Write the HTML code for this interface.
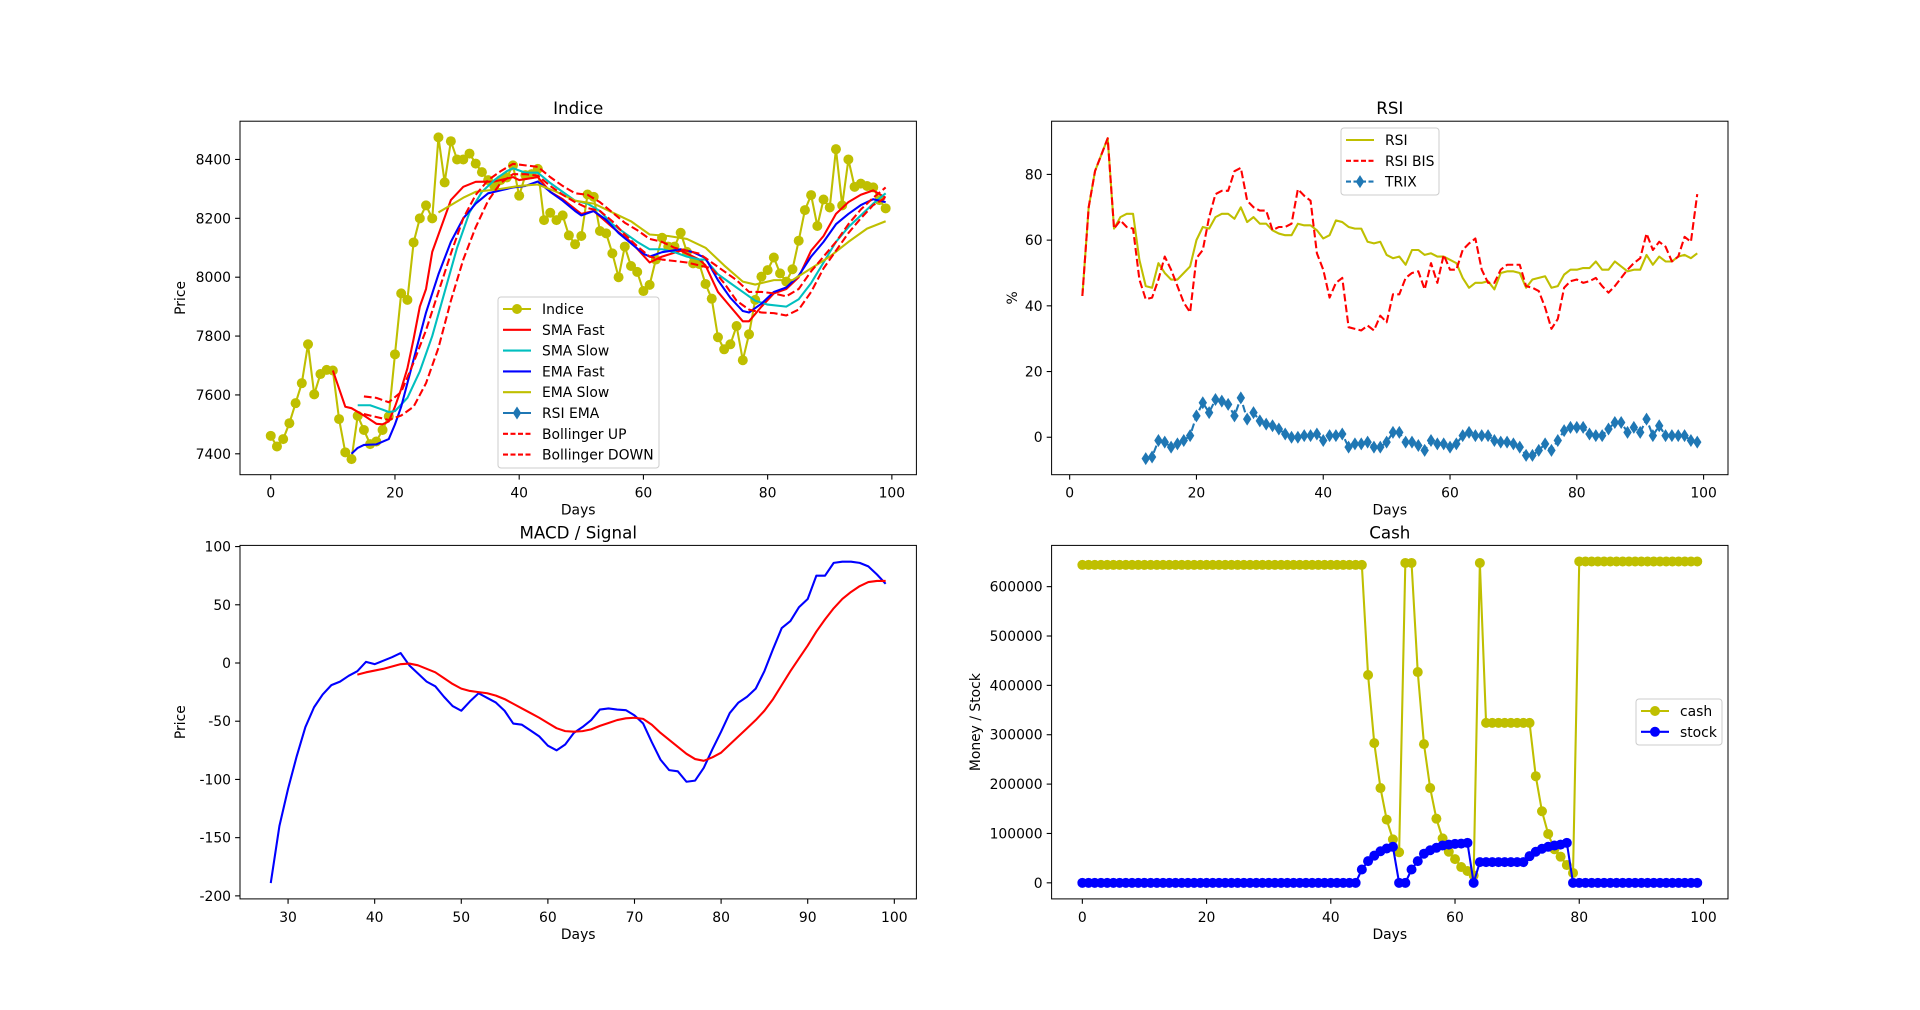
<!DOCTYPE html>
<html><head><meta charset="utf-8">
<style>
html,body{margin:0;padding:0;background:#fff;}
svg{display:block;font-family:"DejaVu Sans","Liberation Sans",sans-serif;}
</style></head>
<body>
<svg id="fig" width="1920" height="1010" viewBox="0 0 1920 1010" xmlns="http://www.w3.org/2000/svg">
<rect width="1920" height="1010" fill="#fff"/>
</svg>
<script>
// ---------- Indice chart data ----------
const indiceDays = Array.from({length:100},(_,i)=>i);
const indiceValues = [7461,7425,7450,7504,7572,7640,7772,7602,7671,7685,7683,7518,7405,7382,7529,7481,7433,7442,7481,7527,
7738,7945,7923,8118,8200,8244,8200,8475,8322,8462,8400,8400,8420,8386,8357,8330,8310,8330,8339,8380,
8277,8347,8350,8368,8194,8219,8194,8210,8142,8112,8140,8281,8273,8157,8149,8081,8000,8104,8038,8018,
7953,7974,8060,8134,8104,8104,8151,8086,8047,8045,7977,7927,7796,7755,7772,7834,7718,7806,7923,8002,
8024,8067,8013,7985,8027,8124,8228,8279,8174,8264,8237,8435,8244,8400,8307,8318,8310,8305,8262,8234];
const smaFastDays = [10,12,13,15,17,18,19,20,21,22,23,24,25,26,29,31,33,36,39,40,43,45,47,50,52,55,58,61,63,66,69,70,72,74,76,77,79,81,83,85,87,89,91,93,95,97,99];
const smaFastValues = [7683,7560,7555,7530,7502,7500,7510,7560,7620,7690,7790,7900,7960,8086,8262,8307,8324,8325,8340,8330,8340,8290,8265,8215,8225,8170,8120,8050,8070,8090,8060,8040,7950,7900,7850,7850,7900,7945,7960,8000,8090,8140,8215,8255,8280,8295,8270];
const smaSlowDays = [14,16,18,19,20,22,24,26,28,30,32,34,36,38,39,41,43,45,47,49,51,53,55,57,59,61,63,65,67,69,70,72,74,76,78,80,83,85,87,89,91,93,95,97,99];
const smaSlowValues = [7565,7565,7550,7542,7545,7590,7680,7800,7950,8100,8220,8290,8330,8360,8370,8355,8355,8320,8290,8260,8250,8225,8180,8150,8120,8095,8095,8085,8070,8060,8060,8010,7980,7950,7920,7907,7900,7925,7980,8050,8120,8170,8210,8250,8285];
const emaFastDays = [13,14,15,17,19,20,21,23,25,27,29,31,33,35,37,39,41,43,45,47,49,50,52,54,56,58,60,61,63,66,68,70,72,74,76,77,79,81,83,85,87,89,91,93,95,97,99];
const emaFastValues = [7400,7420,7430,7432,7450,7500,7560,7720,7880,8010,8120,8200,8250,8285,8295,8305,8310,8325,8290,8260,8225,8210,8225,8195,8150,8115,8080,8070,8085,8095,8085,8065,7990,7930,7885,7880,7910,7950,7965,8005,8070,8120,8180,8215,8245,8265,8255];
const emaSlowDays = [27,29,31,33,35,37,40,43,46,49,52,55,58,61,64,67,70,73,76,78,81,84,87,90,93,96,99];
const emaSlowValues = [8220,8245,8270,8290,8295,8300,8310,8315,8290,8260,8250,8220,8190,8145,8140,8130,8100,8040,7985,7975,7990,7990,8030,8070,8120,8165,8190];
const bollDays = [15,17,19,21,23,25,27,29,31,33,35,37,39,41,43,45,47,49,51,53,55,57,59,61,63,65,67,69,71,73,75,77,79,81,83,85,87,89,91,93,95,97,99];
const bollUpValues = [7595,7590,7575,7610,7710,7820,7950,8080,8200,8280,8330,8360,8385,8380,8375,8340,8310,8285,8280,8255,8220,8185,8160,8130,8120,8100,8090,8080,8050,8020,7990,7950,7950,7945,7935,7960,8020,8070,8120,8180,8230,8270,8305];
const bollDownValues = [7535,7525,7515,7530,7560,7640,7760,7920,8060,8170,8260,8320,8350,8350,8345,8310,8280,8255,8235,8225,8190,8145,8105,8070,8060,8055,8050,8040,8030,7980,7920,7890,7880,7878,7870,7890,7950,8030,8090,8150,8200,8245,8270];
const indiceXTicks = [0,20,40,60,80,100];
const indiceYTicks = [7400,7600,7800,8000,8200,8400];

// ---------- RSI chart data ----------
const rsiDays = Array.from({length:98},(_,i)=>i+2);
const rsiValues = [43,70,81,86,91,63.5,67,68,68,54,46,45.5,53,50,48,48,50,52,60,64,63.5,67,68,68,66.5,70,65.5,67,65,65,63,62,61.5,61.5,65,64.5,64.5,63,60.5,61.5,66,65.5,64,63.5,63.5,59.5,59,59.5,55.5,54.5,55,52.5,57,57,55.5,56,55,55,54,53,48.5,45.5,47,47,47.5,45,50,50.5,50.5,50,45.5,48,48.5,49,45.5,46,49.5,51,51,51.5,51.5,53.5,51,51,53.5,52,50.5,51,51,55.5,52.5,55,53.5,53.5,55,55.5,54.5,56];
const rsiBisValues = [43,70,81,86,91,63.5,66,64,63.5,48,42,42.5,48,55,51,46,41,38,54.5,57,67,74,75,75,81,82,72,70,69,69,63,64,64,65,75.5,73.5,72,56,51,42.5,47,48.5,33.5,33,32.5,34,32.5,37,35,43.5,43.5,48.5,50,50.5,45,53,47,55.5,51,51,57,59,60.5,51,47,47,51,52.5,52.5,52.5,46,45.5,44.5,39.5,33,36,45.5,47.5,48,47,47.5,48.5,46,44,46,48.5,51,53,54.5,62,57,59.5,58,53.5,55,61,59.5,74];
const trixDays = Array.from({length:88},(_,i)=>i+12);
const trixValues = [-6.5,-6,-1,-1.5,-3,-2,-1,0.5,6.5,10.5,7.5,11.5,11,10,6.5,12,5.5,7.5,5,4,3.5,2.5,1,0,0,0.5,0.5,1,-1,0.5,0.5,1,-3,-2,-2,-1.5,-3,-3,-1.5,1.5,1.5,-1.5,-1.5,-2.5,-4,-1,-2,-2,-3,-2,0.5,1.5,0.5,0.5,0.5,-1,-1.5,-1.5,-2,-3,-5.5,-5.5,-4,-2,-4,-1,2,3,3,3,1,0.5,0.5,2.5,4.5,4.5,1.5,3,1.5,5.5,0.5,3.5,0.5,0.5,0.5,0.5,-1,-1.5];
const rsiXTicks = [0,20,40,60,80,100];
const rsiYTicks = [0,20,40,60,80];

// ---------- MACD chart data ----------
const macdDays = Array.from({length:72},(_,i)=>i+28);
const macdValues = [-189,-140,-108,-80,-55,-38,-27,-19,-16,-11,-7,1,-1,2,5,8.5,-2,-9,-16,-20,-29,-37,-41,-33,-26,-30,-34,-41,-52,-53,-58,-63,-71,-75,-70,-60,-55,-49,-40,-39,-40,-40.5,-45,-52,-68,-83,-92,-93,-102,-101,-90,-74,-59,-43,-34,-29,-22,-7,12,30,36,48,55,75,75,86,87,87,86,83,76,68];
const signalDays = Array.from({length:62},(_,i)=>i+38);
const signalValues = [-10,-8,-6.5,-5,-3,-1,-0.5,-2,-5,-8,-13,-18,-22,-24,-25,-26,-28,-31,-35,-39,-43,-47,-51.5,-56,-58.5,-59,-58.5,-57,-54,-51.5,-49,-47.5,-47,-48,-53,-60,-66,-72,-78,-82.5,-84,-81,-77,-70,-63,-56,-49,-41,-31,-19,-7,4,15,27,37.5,47,55,61,66,69.5,70.5,70.5];
const macdXTicks = [30,40,50,60,70,80,90,100];
const macdYTicks = [-200,-150,-100,-50,0,50,100];

// ---------- Cash chart data ----------
const cashDays = Array.from({length:100},(_,i)=>i);
const cashValues = [644000,644000,644000,644000,644000,644000,644000,644000,644000,644000,644000,644000,644000,644000,644000,644000,644000,644000,644000,644000,
644000,644000,644000,644000,644000,644000,644000,644000,644000,644000,644000,644000,644000,644000,644000,644000,644000,644000,644000,644000,
644000,644000,644000,644000,644000,644000,421000,283000,192000,128000,88000,62000,648000,648000,427000,281000,192000,130000,90000,63000,
48000,32000,24000,15000,648000,324000,324000,324000,324000,324000,324000,324000,324000,216000,145000,99000,68000,53000,36000,20000,
651000,651000,651000,651000,651000,651000,651000,651000,651000,651000,651000,651000,651000,651000,651000,651000,651000,651000,651000,651000];
const stockValues = [0,0,0,0,0,0,0,0,0,0,0,0,0,0,0,0,0,0,0,0,0,0,0,0,0,0,0,0,0,0,0,0,0,0,0,0,0,0,0,0,0,0,0,0,0,
27000,44000,55000,64000,69500,73000,0,0,27000,44000,59000,66000,71000,75500,77500,79000,79500,81000,0,
42000,42000,42000,42000,42000,42000,42000,42000,54000,63000,69000,73000,75500,77500,81000,
0,0,0,0,0,0,0,0,0,0,0,0,0,0,0,0,0,0,0,0,0];
const cashXTicks = [0,20,40,60,80,100];
const cashYTicks = [0,100000,200000,300000,400000,500000,600000];

// ---------- drawing helpers ----------
const NS = "http://www.w3.org/2000/svg";
const fig = document.getElementById('fig');
function mk(tag, attrs, parent){
  const e = document.createElementNS(NS, tag);
  for (const k in attrs) e.setAttribute(k, attrs[k]);
  (parent||fig).appendChild(e);
  return e;
}
function makeAxes(name, x0,y0,x1,y1, xmin,xmax,ymin,ymax){
  const g = mk('g',{});
  
  
  const ax = {g,x0,y0,x1,y1,xmin,xmax,ymin,ymax,
    sx:v=>x0+(v-xmin)/(xmax-xmin)*(x1-x0),
    sy:v=>y1-(v-ymin)/(ymax-ymin)*(y1-y0)};
  const cid = 'clip-'+name;
  const cp = mk('clipPath',{id:cid},g);
  mk('rect',{x:x0-6,y:y0-6,width:x1-x0+12,height:y1-y0+12},cp);
  ax.plot = mk('g',{'clip-path':'url(#'+cid+')'},g);
  return ax;
}
function frame(ax, title, xlabel, ylabel, xticks, yticks, yfmt){
  const g = ax.g;
  const f = mk('rect',{x:ax.x0,y:ax.y0,width:ax.x1-ax.x0,height:ax.y1-ax.y0,fill:'none',stroke:'#000','stroke-width':1},g);
  
  
  xticks.forEach(v=>{
    const x = ax.sx(v);
    mk('line',{x1:x,x2:x,y1:ax.y1,y2:ax.y1+4.9,stroke:'#000','stroke-width':1.1},g);
    const t = mk('text',{x:x,y:ax.y1+23,'font-size':13.9,'text-anchor':'middle',fill:'#000'},g);
    t.textContent = String(v);
    
    
  });
  yticks.forEach(v=>{
    const y = ax.sy(v);
    mk('line',{x1:ax.x0-4.9,x2:ax.x0,y1:y,y2:y,stroke:'#000','stroke-width':1.1},g);
    const t = mk('text',{x:ax.x0-9,y:y+5,'font-size':13.9,'text-anchor':'end',fill:'#000'},g);
    t.textContent = yfmt ? yfmt(v) : String(v);
    
    
  });
  const tt = mk('text',{x:(ax.x0+ax.x1)/2,y:ax.y0-7,'font-size':16.7,'text-anchor':'middle',fill:'#000'},g);
  tt.textContent = title;
  
  
  const xl = mk('text',{x:(ax.x0+ax.x1)/2,y:ax.y1+40,'font-size':13.9,'text-anchor':'middle',fill:'#000'},g);
  xl.textContent = xlabel;
  
  
  const cy = (ax.y0+ax.y1)/2;
  const yl = mk('text',{x:0,y:0,'font-size':13.9,'text-anchor':'middle',fill:'#000',transform:'translate('+ylabel[1]+','+cy+') rotate(-90)'},g);
  yl.textContent = ylabel[0];
  
  
}
function line(ax, xs, ys, color, name, dash){
  const d = xs.map((x,i)=>(i?'L':'M')+ax.sx(x).toFixed(2)+' '+ax.sy(ys[i]).toFixed(2)).join('');
  const p = mk('path',{d:d,fill:'none',stroke:color,'stroke-width':2.08,'stroke-linejoin':'round'},ax.plot);
  if (dash) p.setAttribute('stroke-dasharray', dash);
  
  
  return p;
}
function dots(ax, xs, ys, color, name){
  const g = mk('g',{fill:color},ax.plot);
  
  
  xs.forEach((x,i)=>{ mk('circle',{cx:ax.sx(x),cy:ax.sy(ys[i]),r:5},g); });
}
function diamonds(ax, xs, ys, color, name){
  const g = mk('g',{fill:color},ax.plot);
  
  
  xs.forEach((x,i)=>{
    const cx = ax.sx(x), cy = ax.sy(ys[i]);
    mk('path',{d:`M${cx} ${cy-6.5}L${cx+4.2} ${cy}L${cx} ${cy+6.5}L${cx-4.2} ${cy}Z`},g);
  });
}
function legend(name, x, y, w, h, entries){
  const g = mk('g',{});
  
  
  mk('rect',{x:x,y:y,width:w,height:h,rx:3,fill:'#fff','fill-opacity':0.8,stroke:'#ccc','stroke-width':1},g);
  entries.forEach((e,i)=>{
    const cy = y+12+i*20.8;
    const eg = mk('g',{},g);
    
    
    const l = mk('line',{x1:x+5,x2:x+33,y1:cy,y2:cy,stroke:e.c,'stroke-width':2.08},eg);
    if (e.dash) l.setAttribute('stroke-dasharray', e.dash);
    if (e.m==='o') mk('circle',{cx:x+19,cy:cy,r:5,fill:e.c},eg);
    if (e.m==='d') mk('path',{d:`M${x+19} ${cy-6.5}L${x+23.2} ${cy}L${x+19} ${cy+6.5}L${x+14.8} ${cy}Z`,fill:e.c},eg);
    const t = mk('text',{x:x+44,y:cy+5,'font-size':13.9,fill:'#000'},eg);
    t.textContent = e.t;
  });
}
const Y='#bfbf00', R='#ff0000', C='#00bfbf', B='#0000ff', T='#1f77b4';
const DASH='7.7 3.3';

// ---------- Indice ----------
const a1 = makeAxes('indice-chart',240,121.2,916.4,474.7,-4.95,103.95,7329,8530);
line(a1, indiceDays, indiceValues, Y, 'indice-line');
dots(a1, indiceDays, indiceValues, Y, 'indice-points');
line(a1, smaFastDays, smaFastValues, R, 'sma-fast-line');
line(a1, smaSlowDays, smaSlowValues, C, 'sma-slow-line');
line(a1, emaFastDays, emaFastValues, B, 'ema-fast-line');
line(a1, emaSlowDays, emaSlowValues, Y, 'ema-slow-line');
line(a1, bollDays, bollUpValues, R, 'bollinger-up-line', DASH);
line(a1, bollDays, bollDownValues, R, 'bollinger-down-line', DASH);
frame(a1,'Indice','Days',['Price',185],indiceXTicks,indiceYTicks);
legend('indice-legend',498,297,161,171,[
 {t:'Indice',c:Y,m:'o'},{t:'SMA Fast',c:R},{t:'SMA Slow',c:C},{t:'EMA Fast',c:B},
 {t:'EMA Slow',c:Y},{t:'RSI EMA',c:T,m:'d'},{t:'Bollinger UP',c:R,dash:'5 2.5'},{t:'Bollinger DOWN',c:R,dash:'5 2.5'}]);

// ---------- RSI ----------
const a2 = makeAxes('rsi-chart',1051.6,121.2,1728,474.7,-2.85,103.85,-11.4,96.2);
line(a2, rsiDays, rsiValues, Y, 'rsi-line');
line(a2, rsiDays, rsiBisValues, R, 'rsi-bis-line', DASH);
line(a2, trixDays, trixValues, T, 'trix-line', DASH);
diamonds(a2, trixDays, trixValues, T, 'trix-points');
frame(a2,'RSI','Days',['%',1017],rsiXTicks,rsiYTicks);
legend('rsi-legend',1341,128,98,67,[
 {t:'RSI',c:Y},{t:'RSI BIS',c:R,dash:'5 2.5'},{t:'TRIX',c:T,m:'d',dash:'5 2.5'}]);

// ---------- MACD ----------
const a3 = makeAxes('macd-chart',240,545.4,916.4,898.9,24.45,102.55,-202.6,101);
line(a3, macdDays, macdValues, B, 'macd-line');
line(a3, signalDays, signalValues, R, 'signal-line');
frame(a3,'MACD / Signal','Days',['Price',185],macdXTicks,macdYTicks);

// ---------- Cash ----------
const a4 = makeAxes('cash-chart',1051.6,545.4,1728,898.9,-4.95,103.95,-32550,683550);
line(a4, cashDays, cashValues, Y, 'cash-line');
dots(a4, cashDays, cashValues, Y, 'cash-points');
line(a4, cashDays, stockValues, B, 'stock-line');
dots(a4, cashDays, stockValues, B, 'stock-points');
frame(a4,'Cash','Days',['Money / Stock',980],cashXTicks,cashYTicks);
legend('cash-legend',1636,699,86,46,[{t:'cash',c:Y,m:'o'},{t:'stock',c:B,m:'o'}]);
</script>
</body></html>
